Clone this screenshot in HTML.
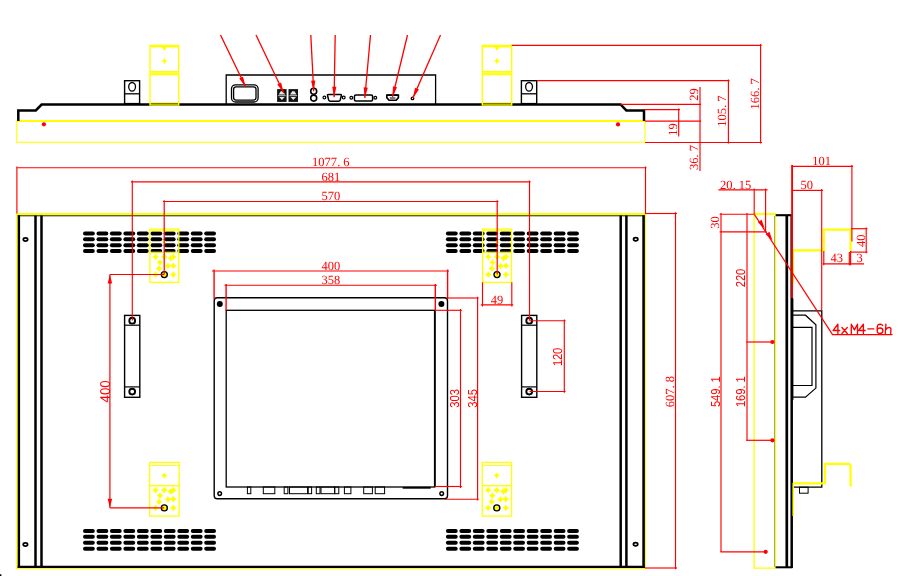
<!DOCTYPE html>
<html><head><meta charset="utf-8"><title>drawing</title>
<style>html,body{margin:0;padding:0;background:#fff;overflow:hidden;}svg{display:block;}svg{will-change:transform;}svg text{text-rendering:geometricPrecision;}</style></head>
<body><svg width="898" height="576" viewBox="0 0 898 576">
<rect width="898" height="576" fill="#fff"/>
<rect x="16.8" y="121" width="628.2" height="21.3" stroke="#ffff00" stroke-width="1.1" fill="none" rx="0"/>
<line x1="16.8" y1="121" x2="645" y2="121" stroke="#ffff00" stroke-width="2" />
<polyline points="18.3,121 18.3,110.4 35.8,110.4 41.6,104.5 620.6,104.5 626.3,110.4 644,110.4 644,121" stroke="#000000" stroke-width="2.5" fill="none" />
<circle cx="43.9" cy="124.3" r="2.1" stroke="none" stroke-width="0" fill="#ff0000"/>
<circle cx="618" cy="124.4" r="2.1" stroke="none" stroke-width="0" fill="#ff0000"/>
<rect x="150" y="45.5" width="28.7" height="59.5" stroke="#ffff00" stroke-width="1.4" fill="none" rx="0"/>
<line x1="150" y1="46.6" x2="178.7" y2="46.6" stroke="#ffff00" stroke-width="1.6" />
<rect x="150" y="71.3" width="28.7" height="3.7" stroke="none" stroke-width="0" fill="#ffff30" rx="0"/>
<line x1="150" y1="71.5" x2="178.7" y2="71.5" stroke="#ffff00" stroke-width="1" />
<line x1="150" y1="74.8" x2="178.7" y2="74.8" stroke="#ffff00" stroke-width="1" />
<line x1="150" y1="102.8" x2="178.7" y2="102.8" stroke="#ffff00" stroke-width="1" />
<path d="M161.85 47 L166.85 47 L164.35 51 Z" fill="#ffff00"/>
<path d="M164.35 57.5 l1 2.6 l2.6 1 l-2.6 1 l-1 2.6 l-1 -2.6 l-2.6 -1 l2.6 -1 z" fill="#ffff00"/>
<rect x="482.3" y="45.5" width="29.4" height="59.5" stroke="#ffff00" stroke-width="1.4" fill="none" rx="0"/>
<line x1="482.3" y1="46.6" x2="511.7" y2="46.6" stroke="#ffff00" stroke-width="1.6" />
<rect x="482.3" y="71.3" width="29.4" height="3.7" stroke="none" stroke-width="0" fill="#ffff30" rx="0"/>
<line x1="482.3" y1="71.5" x2="511.7" y2="71.5" stroke="#ffff00" stroke-width="1" />
<line x1="482.3" y1="74.8" x2="511.7" y2="74.8" stroke="#ffff00" stroke-width="1" />
<line x1="482.3" y1="102.8" x2="511.7" y2="102.8" stroke="#ffff00" stroke-width="1" />
<path d="M494.5 47 L499.5 47 L497.0 51 Z" fill="#ffff00"/>
<path d="M497.0 57.5 l1 2.6 l2.6 1 l-2.6 1 l-1 2.6 l-1 -2.6 l-2.6 -1 l2.6 -1 z" fill="#ffff00"/>
<rect x="124.6" y="80.7" width="15.0" height="22.9" stroke="#000000" stroke-width="1.4" fill="none" rx="0"/>
<line x1="124.6" y1="93.8" x2="139.6" y2="93.8" stroke="#000000" stroke-width="1.3" />
<ellipse cx="132.1" cy="86.8" rx="3.4" ry="4.3" fill="none" stroke="#000000" stroke-width="1.3"/>
<rect x="521.4" y="80.7" width="15.3" height="22.9" stroke="#000000" stroke-width="1.4" fill="none" rx="0"/>
<line x1="521.4" y1="93.8" x2="536.7" y2="93.8" stroke="#000000" stroke-width="1.3" />
<ellipse cx="529.05" cy="86.8" rx="3.4" ry="4.3" fill="none" stroke="#000000" stroke-width="1.3"/>
<polyline points="226.2,104 226.2,75 435.6,75 435.6,104" stroke="#000000" stroke-width="1.3" fill="none" />
<rect x="231.5" y="84.8" width="26.6" height="17.2" stroke="#000000" stroke-width="1.3" fill="none" rx="4"/>
<rect x="233.6" y="86.8" width="22.4" height="13.3" stroke="#000000" stroke-width="1.3" fill="none" rx="2.5"/>
<rect x="277.1" y="89.1" width="9.5" height="12.8" stroke="none" stroke-width="0" fill="#111" rx="0"/>
<path d="M278.70000000000005 94.39999999999999 L280.70000000000005 91.3 L283.1 91.3 L285.1 94.39999999999999 Z M279.1 97.0 L284.70000000000005 97.0 L281.90000000000003 100.1 Z" fill="#e8e8e8"/>
<line x1="278.1" y1="95.69999999999999" x2="285.70000000000005" y2="95.69999999999999" stroke="#eee" stroke-width="0.8" />
<rect x="288.5" y="89.1" width="9.5" height="12.8" stroke="none" stroke-width="0" fill="#111" rx="0"/>
<path d="M290.1 94.39999999999999 L292.1 91.3 L294.5 91.3 L296.5 94.39999999999999 Z M290.5 97.0 L296.1 97.0 L293.3 100.1 Z" fill="#e8e8e8"/>
<line x1="289.5" y1="95.69999999999999" x2="297.1" y2="95.69999999999999" stroke="#eee" stroke-width="0.8" />
<circle cx="313.7" cy="91.2" r="3" stroke="#000000" stroke-width="1.6" fill="none"/>
<circle cx="313.7" cy="98.1" r="3" stroke="#000000" stroke-width="1.6" fill="none"/>
<path d="M328.4 94.4 L340.5 94.4 Q341.7 94.4 341.3 95.7 L340.2 100 Q339.8 101.3 338.5 101.3 L330.4 101.3 Q329.1 101.3 328.7 100 L327.6 95.7 Q327.2 94.4 328.4 94.4 Z" fill="none" stroke="#000000" stroke-width="1.5"/>
<circle cx="324.4" cy="97.6" r="1.4" stroke="#000000" stroke-width="1.2" fill="none"/>
<circle cx="343.7" cy="97.6" r="1.4" stroke="#000000" stroke-width="1.2" fill="none"/>
<rect x="354.4" y="95" width="18.2" height="5.9" stroke="#000000" stroke-width="1.5" fill="none" rx="1.5"/>
<circle cx="351.3" cy="97.8" r="1.4" stroke="#000000" stroke-width="1.2" fill="none"/>
<circle cx="375.3" cy="97.8" r="1.4" stroke="#000000" stroke-width="1.2" fill="none"/>
<path d="M386.8 95.2 L398.4 95.2 L398.4 97.6 L396.2 100.3 L389 100.3 L386.8 97.6 Z" fill="none" stroke="#000000" stroke-width="1.6"/>
<line x1="386.5" y1="95.1" x2="398.7" y2="95.1" stroke="#000000" stroke-width="1.8" />
<line x1="389.8" y1="98" x2="395.4" y2="98" stroke="#000000" stroke-width="1" />
<circle cx="412.5" cy="98.4" r="1.3" stroke="#000000" stroke-width="1.3" fill="none"/>
<line x1="220.5" y1="35" x2="245.7" y2="87" stroke="#ff0000" stroke-width="1.3" />
<polygon points="245.70,87.00 239.23,78.47 243.01,76.64" fill="#ff0000"/>
<line x1="256" y1="35" x2="283.7" y2="93" stroke="#ff0000" stroke-width="1.3" />
<polygon points="283.70,93.00 277.28,84.43 281.07,82.62" fill="#ff0000"/>
<line x1="310.8" y1="35" x2="313.7" y2="91.2" stroke="#ff0000" stroke-width="1.3" />
<polygon points="313.70,91.20 311.06,80.82 315.26,80.61" fill="#ff0000"/>
<line x1="335.2" y1="35" x2="334.1" y2="97.3" stroke="#ff0000" stroke-width="1.3" />
<polygon points="334.10,97.30 332.19,86.76 336.39,86.84" fill="#ff0000"/>
<line x1="370.5" y1="35" x2="364.8" y2="98" stroke="#ff0000" stroke-width="1.3" />
<polygon points="364.80,98.00 363.65,87.35 367.84,87.73" fill="#ff0000"/>
<line x1="407.5" y1="35" x2="392.5" y2="97" stroke="#ff0000" stroke-width="1.3" />
<polygon points="392.50,97.00 392.93,86.30 397.01,87.29" fill="#ff0000"/>
<line x1="440.5" y1="35" x2="412.8" y2="98.2" stroke="#ff0000" stroke-width="1.3" />
<polygon points="412.80,98.20 415.09,87.74 418.94,89.43" fill="#ff0000"/>
<line x1="511.7" y1="45.4" x2="761.6" y2="45.4" stroke="#ff0000" stroke-width="1.4" />
<line x1="760.6" y1="44" x2="760.6" y2="143.5" stroke="#ff0000" stroke-width="1.15" />
<line x1="536.7" y1="80.7" x2="729.5" y2="80.7" stroke="#ff0000" stroke-width="1.3" />
<line x1="728.4" y1="79.4" x2="728.4" y2="143.5" stroke="#ff0000" stroke-width="1.15" />
<line x1="620.6" y1="104.3" x2="701" y2="104.3" stroke="#ff0000" stroke-width="1.15" />
<line x1="700" y1="87" x2="700" y2="171" stroke="#ff0000" stroke-width="1.15" />
<line x1="644" y1="109.6" x2="680" y2="109.6" stroke="#ff0000" stroke-width="1.15" />
<line x1="678.7" y1="108.5" x2="678.7" y2="136.6" stroke="#ff0000" stroke-width="1.15" />
<line x1="645" y1="121.2" x2="701" y2="121.2" stroke="#ff0000" stroke-width="1.2" />
<line x1="645" y1="142.5" x2="762" y2="142.5" stroke="#ff0000" stroke-width="1.2" />
<text transform="translate(759 93.8) rotate(-90) scale(1.0 1)" font-family="Liberation Serif" font-size="12.5" fill="#ff0000" text-anchor="middle"><tspan x="-12.50">1</tspan><tspan x="-6.25">6</tspan><tspan x="0.00">6</tspan><tspan x="4.88">.</tspan><tspan x="12.50">7</tspan></text>
<text transform="translate(726 111) rotate(-90) scale(1.0 1)" font-family="Liberation Serif" font-size="12.5" fill="#ff0000" text-anchor="middle"><tspan x="-12.50">1</tspan><tspan x="-6.25">0</tspan><tspan x="0.00">5</tspan><tspan x="4.88">.</tspan><tspan x="12.50">7</tspan></text>
<text transform="translate(698 94.6) rotate(-90) scale(1.0 1)" font-family="Liberation Serif" font-size="12.5" fill="#ff0000" text-anchor="middle"><tspan x="-3.12">2</tspan><tspan x="3.12">9</tspan></text>
<text transform="translate(698 157.6) rotate(-90) scale(1.0 1)" font-family="Liberation Serif" font-size="12.5" fill="#ff0000" text-anchor="middle"><tspan x="-9.38">3</tspan><tspan x="-3.12">6</tspan><tspan x="1.75">.</tspan><tspan x="9.38">7</tspan></text>
<text transform="translate(676.6 129.5) rotate(-90) scale(1.0 1)" font-family="Liberation Serif" font-size="12.5" fill="#ff0000" text-anchor="middle"><tspan x="-3.12">1</tspan><tspan x="3.12">9</tspan></text>
<line x1="16.3" y1="214.1" x2="646.2" y2="214.1" stroke="#ffff00" stroke-width="2.4" />
<line x1="17" y1="213" x2="17" y2="568.9" stroke="#ffff00" stroke-width="1.5" />
<line x1="645.5" y1="213" x2="645.5" y2="568.9" stroke="#ffff00" stroke-width="1.3" />
<line x1="16.3" y1="568.4" x2="646.2" y2="568.4" stroke="#ffff00" stroke-width="1.1" />
<line x1="17.7" y1="215.8" x2="644.9" y2="215.8" stroke="#000000" stroke-width="0.9" />
<line x1="18.9" y1="215.3" x2="18.9" y2="567.9" stroke="#000000" stroke-width="2.4" />
<line x1="643.6" y1="215.3" x2="643.6" y2="567.9" stroke="#000000" stroke-width="2.6" />
<line x1="17.7" y1="566.8" x2="644.9" y2="566.8" stroke="#000000" stroke-width="2.2" />
<line x1="35.5" y1="215.5" x2="35.5" y2="566.5" stroke="#000000" stroke-width="2.5" />
<line x1="41.5" y1="215.5" x2="41.5" y2="566.5" stroke="#000000" stroke-width="2.5" />
<line x1="620.7" y1="215.5" x2="620.7" y2="566.5" stroke="#000000" stroke-width="2.5" />
<line x1="626.4" y1="215.5" x2="626.4" y2="566.5" stroke="#000000" stroke-width="2.5" />
<ellipse cx="25.5" cy="239.5" rx="2.2" ry="1.6" fill="none" stroke="#000000" stroke-width="1.7"/>
<ellipse cx="635.7" cy="239.2" rx="2.2" ry="1.6" fill="none" stroke="#000000" stroke-width="1.7"/>
<ellipse cx="25.4" cy="544.5" rx="2.2" ry="1.6" fill="none" stroke="#000000" stroke-width="1.7"/>
<ellipse cx="635.6" cy="544.3" rx="2.2" ry="1.6" fill="none" stroke="#000000" stroke-width="1.7"/>
<rect x="83.0" y="231.50" width="11.8" height="4" rx="2" fill="#000000"/>
<rect x="96.5" y="231.50" width="11.8" height="4" rx="2" fill="#000000"/>
<rect x="109.9" y="231.50" width="11.8" height="4" rx="2" fill="#000000"/>
<rect x="123.4" y="231.50" width="11.8" height="4" rx="2" fill="#000000"/>
<rect x="136.9" y="231.50" width="11.8" height="4" rx="2" fill="#000000"/>
<rect x="150.4" y="231.50" width="11.8" height="4" rx="2" fill="#000000"/>
<rect x="163.8" y="231.50" width="11.8" height="4" rx="2" fill="#000000"/>
<rect x="177.3" y="231.50" width="11.8" height="4" rx="2" fill="#000000"/>
<rect x="190.8" y="231.50" width="11.8" height="4" rx="2" fill="#000000"/>
<rect x="204.2" y="231.50" width="11.8" height="4" rx="2" fill="#000000"/>
<rect x="83.0" y="237.35" width="11.8" height="4" rx="2" fill="#000000"/>
<rect x="96.5" y="237.35" width="11.8" height="4" rx="2" fill="#000000"/>
<rect x="109.9" y="237.35" width="11.8" height="4" rx="2" fill="#000000"/>
<rect x="123.4" y="237.35" width="11.8" height="4" rx="2" fill="#000000"/>
<rect x="136.9" y="237.35" width="11.8" height="4" rx="2" fill="#000000"/>
<rect x="150.4" y="237.35" width="11.8" height="4" rx="2" fill="#000000"/>
<rect x="163.8" y="237.35" width="11.8" height="4" rx="2" fill="#000000"/>
<rect x="177.3" y="237.35" width="11.8" height="4" rx="2" fill="#000000"/>
<rect x="190.8" y="237.35" width="11.8" height="4" rx="2" fill="#000000"/>
<rect x="204.2" y="237.35" width="11.8" height="4" rx="2" fill="#000000"/>
<rect x="83.0" y="243.20" width="11.8" height="4" rx="2" fill="#000000"/>
<rect x="96.5" y="243.20" width="11.8" height="4" rx="2" fill="#000000"/>
<rect x="109.9" y="243.20" width="11.8" height="4" rx="2" fill="#000000"/>
<rect x="123.4" y="243.20" width="11.8" height="4" rx="2" fill="#000000"/>
<rect x="136.9" y="243.20" width="11.8" height="4" rx="2" fill="#000000"/>
<rect x="150.4" y="243.20" width="11.8" height="4" rx="2" fill="#000000"/>
<rect x="163.8" y="243.20" width="11.8" height="4" rx="2" fill="#000000"/>
<rect x="177.3" y="243.20" width="11.8" height="4" rx="2" fill="#000000"/>
<rect x="190.8" y="243.20" width="11.8" height="4" rx="2" fill="#000000"/>
<rect x="204.2" y="243.20" width="11.8" height="4" rx="2" fill="#000000"/>
<rect x="83.0" y="249.05" width="11.8" height="4" rx="2" fill="#000000"/>
<rect x="96.5" y="249.05" width="11.8" height="4" rx="2" fill="#000000"/>
<rect x="109.9" y="249.05" width="11.8" height="4" rx="2" fill="#000000"/>
<rect x="123.4" y="249.05" width="11.8" height="4" rx="2" fill="#000000"/>
<rect x="136.9" y="249.05" width="11.8" height="4" rx="2" fill="#000000"/>
<rect x="150.4" y="249.05" width="11.8" height="4" rx="2" fill="#000000"/>
<rect x="163.8" y="249.05" width="11.8" height="4" rx="2" fill="#000000"/>
<rect x="177.3" y="249.05" width="11.8" height="4" rx="2" fill="#000000"/>
<rect x="190.8" y="249.05" width="11.8" height="4" rx="2" fill="#000000"/>
<rect x="204.2" y="249.05" width="11.8" height="4" rx="2" fill="#000000"/>
<rect x="83.0" y="528.90" width="11.8" height="4" rx="2" fill="#000000"/>
<rect x="96.5" y="528.90" width="11.8" height="4" rx="2" fill="#000000"/>
<rect x="109.9" y="528.90" width="11.8" height="4" rx="2" fill="#000000"/>
<rect x="123.4" y="528.90" width="11.8" height="4" rx="2" fill="#000000"/>
<rect x="136.9" y="528.90" width="11.8" height="4" rx="2" fill="#000000"/>
<rect x="150.4" y="528.90" width="11.8" height="4" rx="2" fill="#000000"/>
<rect x="163.8" y="528.90" width="11.8" height="4" rx="2" fill="#000000"/>
<rect x="177.3" y="528.90" width="11.8" height="4" rx="2" fill="#000000"/>
<rect x="190.8" y="528.90" width="11.8" height="4" rx="2" fill="#000000"/>
<rect x="204.2" y="528.90" width="11.8" height="4" rx="2" fill="#000000"/>
<rect x="83.0" y="534.83" width="11.8" height="4" rx="2" fill="#000000"/>
<rect x="96.5" y="534.83" width="11.8" height="4" rx="2" fill="#000000"/>
<rect x="109.9" y="534.83" width="11.8" height="4" rx="2" fill="#000000"/>
<rect x="123.4" y="534.83" width="11.8" height="4" rx="2" fill="#000000"/>
<rect x="136.9" y="534.83" width="11.8" height="4" rx="2" fill="#000000"/>
<rect x="150.4" y="534.83" width="11.8" height="4" rx="2" fill="#000000"/>
<rect x="163.8" y="534.83" width="11.8" height="4" rx="2" fill="#000000"/>
<rect x="177.3" y="534.83" width="11.8" height="4" rx="2" fill="#000000"/>
<rect x="190.8" y="534.83" width="11.8" height="4" rx="2" fill="#000000"/>
<rect x="204.2" y="534.83" width="11.8" height="4" rx="2" fill="#000000"/>
<rect x="83.0" y="540.76" width="11.8" height="4" rx="2" fill="#000000"/>
<rect x="96.5" y="540.76" width="11.8" height="4" rx="2" fill="#000000"/>
<rect x="109.9" y="540.76" width="11.8" height="4" rx="2" fill="#000000"/>
<rect x="123.4" y="540.76" width="11.8" height="4" rx="2" fill="#000000"/>
<rect x="136.9" y="540.76" width="11.8" height="4" rx="2" fill="#000000"/>
<rect x="150.4" y="540.76" width="11.8" height="4" rx="2" fill="#000000"/>
<rect x="163.8" y="540.76" width="11.8" height="4" rx="2" fill="#000000"/>
<rect x="177.3" y="540.76" width="11.8" height="4" rx="2" fill="#000000"/>
<rect x="190.8" y="540.76" width="11.8" height="4" rx="2" fill="#000000"/>
<rect x="204.2" y="540.76" width="11.8" height="4" rx="2" fill="#000000"/>
<rect x="83.0" y="546.69" width="11.8" height="4" rx="2" fill="#000000"/>
<rect x="96.5" y="546.69" width="11.8" height="4" rx="2" fill="#000000"/>
<rect x="109.9" y="546.69" width="11.8" height="4" rx="2" fill="#000000"/>
<rect x="123.4" y="546.69" width="11.8" height="4" rx="2" fill="#000000"/>
<rect x="136.9" y="546.69" width="11.8" height="4" rx="2" fill="#000000"/>
<rect x="150.4" y="546.69" width="11.8" height="4" rx="2" fill="#000000"/>
<rect x="163.8" y="546.69" width="11.8" height="4" rx="2" fill="#000000"/>
<rect x="177.3" y="546.69" width="11.8" height="4" rx="2" fill="#000000"/>
<rect x="190.8" y="546.69" width="11.8" height="4" rx="2" fill="#000000"/>
<rect x="204.2" y="546.69" width="11.8" height="4" rx="2" fill="#000000"/>
<rect x="445.9" y="231.50" width="11.8" height="4" rx="2" fill="#000000"/>
<rect x="459.4" y="231.50" width="11.8" height="4" rx="2" fill="#000000"/>
<rect x="472.8" y="231.50" width="11.8" height="4" rx="2" fill="#000000"/>
<rect x="486.3" y="231.50" width="11.8" height="4" rx="2" fill="#000000"/>
<rect x="499.8" y="231.50" width="11.8" height="4" rx="2" fill="#000000"/>
<rect x="513.2" y="231.50" width="11.8" height="4" rx="2" fill="#000000"/>
<rect x="526.7" y="231.50" width="11.8" height="4" rx="2" fill="#000000"/>
<rect x="540.2" y="231.50" width="11.8" height="4" rx="2" fill="#000000"/>
<rect x="553.7" y="231.50" width="11.8" height="4" rx="2" fill="#000000"/>
<rect x="567.1" y="231.50" width="11.8" height="4" rx="2" fill="#000000"/>
<rect x="445.9" y="237.35" width="11.8" height="4" rx="2" fill="#000000"/>
<rect x="459.4" y="237.35" width="11.8" height="4" rx="2" fill="#000000"/>
<rect x="472.8" y="237.35" width="11.8" height="4" rx="2" fill="#000000"/>
<rect x="486.3" y="237.35" width="11.8" height="4" rx="2" fill="#000000"/>
<rect x="499.8" y="237.35" width="11.8" height="4" rx="2" fill="#000000"/>
<rect x="513.2" y="237.35" width="11.8" height="4" rx="2" fill="#000000"/>
<rect x="526.7" y="237.35" width="11.8" height="4" rx="2" fill="#000000"/>
<rect x="540.2" y="237.35" width="11.8" height="4" rx="2" fill="#000000"/>
<rect x="553.7" y="237.35" width="11.8" height="4" rx="2" fill="#000000"/>
<rect x="567.1" y="237.35" width="11.8" height="4" rx="2" fill="#000000"/>
<rect x="445.9" y="243.20" width="11.8" height="4" rx="2" fill="#000000"/>
<rect x="459.4" y="243.20" width="11.8" height="4" rx="2" fill="#000000"/>
<rect x="472.8" y="243.20" width="11.8" height="4" rx="2" fill="#000000"/>
<rect x="486.3" y="243.20" width="11.8" height="4" rx="2" fill="#000000"/>
<rect x="499.8" y="243.20" width="11.8" height="4" rx="2" fill="#000000"/>
<rect x="513.2" y="243.20" width="11.8" height="4" rx="2" fill="#000000"/>
<rect x="526.7" y="243.20" width="11.8" height="4" rx="2" fill="#000000"/>
<rect x="540.2" y="243.20" width="11.8" height="4" rx="2" fill="#000000"/>
<rect x="553.7" y="243.20" width="11.8" height="4" rx="2" fill="#000000"/>
<rect x="567.1" y="243.20" width="11.8" height="4" rx="2" fill="#000000"/>
<rect x="445.9" y="249.05" width="11.8" height="4" rx="2" fill="#000000"/>
<rect x="459.4" y="249.05" width="11.8" height="4" rx="2" fill="#000000"/>
<rect x="472.8" y="249.05" width="11.8" height="4" rx="2" fill="#000000"/>
<rect x="486.3" y="249.05" width="11.8" height="4" rx="2" fill="#000000"/>
<rect x="499.8" y="249.05" width="11.8" height="4" rx="2" fill="#000000"/>
<rect x="513.2" y="249.05" width="11.8" height="4" rx="2" fill="#000000"/>
<rect x="526.7" y="249.05" width="11.8" height="4" rx="2" fill="#000000"/>
<rect x="540.2" y="249.05" width="11.8" height="4" rx="2" fill="#000000"/>
<rect x="553.7" y="249.05" width="11.8" height="4" rx="2" fill="#000000"/>
<rect x="567.1" y="249.05" width="11.8" height="4" rx="2" fill="#000000"/>
<rect x="445.9" y="528.90" width="11.8" height="4" rx="2" fill="#000000"/>
<rect x="459.4" y="528.90" width="11.8" height="4" rx="2" fill="#000000"/>
<rect x="472.8" y="528.90" width="11.8" height="4" rx="2" fill="#000000"/>
<rect x="486.3" y="528.90" width="11.8" height="4" rx="2" fill="#000000"/>
<rect x="499.8" y="528.90" width="11.8" height="4" rx="2" fill="#000000"/>
<rect x="513.2" y="528.90" width="11.8" height="4" rx="2" fill="#000000"/>
<rect x="526.7" y="528.90" width="11.8" height="4" rx="2" fill="#000000"/>
<rect x="540.2" y="528.90" width="11.8" height="4" rx="2" fill="#000000"/>
<rect x="553.7" y="528.90" width="11.8" height="4" rx="2" fill="#000000"/>
<rect x="567.1" y="528.90" width="11.8" height="4" rx="2" fill="#000000"/>
<rect x="445.9" y="534.83" width="11.8" height="4" rx="2" fill="#000000"/>
<rect x="459.4" y="534.83" width="11.8" height="4" rx="2" fill="#000000"/>
<rect x="472.8" y="534.83" width="11.8" height="4" rx="2" fill="#000000"/>
<rect x="486.3" y="534.83" width="11.8" height="4" rx="2" fill="#000000"/>
<rect x="499.8" y="534.83" width="11.8" height="4" rx="2" fill="#000000"/>
<rect x="513.2" y="534.83" width="11.8" height="4" rx="2" fill="#000000"/>
<rect x="526.7" y="534.83" width="11.8" height="4" rx="2" fill="#000000"/>
<rect x="540.2" y="534.83" width="11.8" height="4" rx="2" fill="#000000"/>
<rect x="553.7" y="534.83" width="11.8" height="4" rx="2" fill="#000000"/>
<rect x="567.1" y="534.83" width="11.8" height="4" rx="2" fill="#000000"/>
<rect x="445.9" y="540.76" width="11.8" height="4" rx="2" fill="#000000"/>
<rect x="459.4" y="540.76" width="11.8" height="4" rx="2" fill="#000000"/>
<rect x="472.8" y="540.76" width="11.8" height="4" rx="2" fill="#000000"/>
<rect x="486.3" y="540.76" width="11.8" height="4" rx="2" fill="#000000"/>
<rect x="499.8" y="540.76" width="11.8" height="4" rx="2" fill="#000000"/>
<rect x="513.2" y="540.76" width="11.8" height="4" rx="2" fill="#000000"/>
<rect x="526.7" y="540.76" width="11.8" height="4" rx="2" fill="#000000"/>
<rect x="540.2" y="540.76" width="11.8" height="4" rx="2" fill="#000000"/>
<rect x="553.7" y="540.76" width="11.8" height="4" rx="2" fill="#000000"/>
<rect x="567.1" y="540.76" width="11.8" height="4" rx="2" fill="#000000"/>
<rect x="445.9" y="546.69" width="11.8" height="4" rx="2" fill="#000000"/>
<rect x="459.4" y="546.69" width="11.8" height="4" rx="2" fill="#000000"/>
<rect x="472.8" y="546.69" width="11.8" height="4" rx="2" fill="#000000"/>
<rect x="486.3" y="546.69" width="11.8" height="4" rx="2" fill="#000000"/>
<rect x="499.8" y="546.69" width="11.8" height="4" rx="2" fill="#000000"/>
<rect x="513.2" y="546.69" width="11.8" height="4" rx="2" fill="#000000"/>
<rect x="526.7" y="546.69" width="11.8" height="4" rx="2" fill="#000000"/>
<rect x="540.2" y="546.69" width="11.8" height="4" rx="2" fill="#000000"/>
<rect x="553.7" y="546.69" width="11.8" height="4" rx="2" fill="#000000"/>
<rect x="567.1" y="546.69" width="11.8" height="4" rx="2" fill="#000000"/>
<rect x="149.9" y="229.1" width="28.9" height="53.3" stroke="#ffff00" stroke-width="1.3" fill="none" rx="0"/>
<line x1="149.9" y1="230.8" x2="178.8" y2="230.8" stroke="#ffff00" stroke-width="1" />
<line x1="149.9" y1="252.3" x2="178.8" y2="252.3" stroke="#ffff00" stroke-width="1.2" />
<path d="M155.60000000000002 253.60000000000002 L156.98600000000002 255.51400000000004 L158.90000000000003 256.90000000000003 L156.98600000000002 258.28600000000006 L155.60000000000002 260.20000000000005 L154.21400000000003 258.28600000000006 L152.3 256.90000000000003 L154.21400000000003 255.51400000000004 Z M164.3 253.60000000000002 L165.686 255.51400000000004 L167.60000000000002 256.90000000000003 L165.686 258.28600000000006 L164.3 260.20000000000005 L162.91400000000002 258.28600000000006 L161.0 256.90000000000003 L162.91400000000002 255.51400000000004 Z M170.8 254.90000000000003 L172.186 256.814 L174.10000000000002 258.20000000000005 L172.186 259.58600000000007 L170.8 261.50000000000006 L169.41400000000002 259.58600000000007 L167.5 258.20000000000005 L169.41400000000002 256.814 Z M173.3 253.60000000000002 L174.686 255.51400000000004 L176.60000000000002 256.90000000000003 L174.686 258.28600000000006 L173.3 260.20000000000005 L171.91400000000002 258.28600000000006 L170.0 256.90000000000003 L171.91400000000002 255.51400000000004 Z M160.0 259.1 L161.386 261.014 L163.3 262.40000000000003 L161.386 263.78600000000006 L160.0 265.70000000000005 L158.614 263.78600000000006 L156.7 262.40000000000003 L158.614 261.014 Z M167.9 262.8 L169.286 264.714 L171.20000000000002 266.1 L169.286 267.48600000000005 L167.9 269.40000000000003 L166.514 267.48600000000005 L164.6 266.1 L166.514 264.714 Z M173.3 262.5 L174.686 264.414 L176.60000000000002 265.8 L174.686 267.18600000000004 L173.3 269.1 L171.91400000000002 267.18600000000004 L170.0 265.8 L171.91400000000002 264.414 Z M159.10000000000002 265.2 L160.48600000000002 267.114 L162.40000000000003 268.5 L160.48600000000002 269.886 L159.10000000000002 271.8 L157.71400000000003 269.886 L155.8 268.5 L157.71400000000003 267.114 Z M155.60000000000002 271.3 L156.98600000000002 273.214 L158.90000000000003 274.6 L156.98600000000002 275.98600000000005 L155.60000000000002 277.90000000000003 L154.21400000000003 275.98600000000005 L152.3 274.6 L154.21400000000003 273.214 Z M173.3 271.3 L174.686 273.214 L176.60000000000002 274.6 L174.686 275.98600000000005 L173.3 277.90000000000003 L171.91400000000002 275.98600000000005 L170.0 274.6 L171.91400000000002 273.214 Z M164.3 240.10000000000002 L165.14000000000001 241.26000000000002 L166.3 242.10000000000002 L165.14000000000001 242.94000000000003 L164.3 244.10000000000002 L163.46 242.94000000000003 L162.3 242.10000000000002 L163.46 241.26000000000002 Z " fill="#ffff00"/>
<rect x="482.6" y="229.1" width="28.9" height="53.3" stroke="#ffff00" stroke-width="1.3" fill="none" rx="0"/>
<line x1="482.6" y1="230.8" x2="511.5" y2="230.8" stroke="#ffff00" stroke-width="1" />
<line x1="482.6" y1="252.3" x2="511.5" y2="252.3" stroke="#ffff00" stroke-width="1.2" />
<path d="M488.3 253.60000000000002 L489.68600000000004 255.51400000000004 L491.6 256.90000000000003 L489.68600000000004 258.28600000000006 L488.3 260.20000000000005 L486.914 258.28600000000006 L485.0 256.90000000000003 L486.914 255.51400000000004 Z M497 253.60000000000002 L498.386 255.51400000000004 L500.3 256.90000000000003 L498.386 258.28600000000006 L497 260.20000000000005 L495.614 258.28600000000006 L493.7 256.90000000000003 L495.614 255.51400000000004 Z M503.5 254.90000000000003 L504.886 256.814 L506.8 258.20000000000005 L504.886 259.58600000000007 L503.5 261.50000000000006 L502.114 259.58600000000007 L500.2 258.20000000000005 L502.114 256.814 Z M506 253.60000000000002 L507.386 255.51400000000004 L509.3 256.90000000000003 L507.386 258.28600000000006 L506 260.20000000000005 L504.614 258.28600000000006 L502.7 256.90000000000003 L504.614 255.51400000000004 Z M492.7 259.1 L494.086 261.014 L496.0 262.40000000000003 L494.086 263.78600000000006 L492.7 265.70000000000005 L491.31399999999996 263.78600000000006 L489.4 262.40000000000003 L491.31399999999996 261.014 Z M500.6 262.8 L501.98600000000005 264.714 L503.90000000000003 266.1 L501.98600000000005 267.48600000000005 L500.6 269.40000000000003 L499.214 267.48600000000005 L497.3 266.1 L499.214 264.714 Z M506 262.5 L507.386 264.414 L509.3 265.8 L507.386 267.18600000000004 L506 269.1 L504.614 267.18600000000004 L502.7 265.8 L504.614 264.414 Z M491.8 265.2 L493.18600000000004 267.114 L495.1 268.5 L493.18600000000004 269.886 L491.8 271.8 L490.414 269.886 L488.5 268.5 L490.414 267.114 Z M488.3 271.3 L489.68600000000004 273.214 L491.6 274.6 L489.68600000000004 275.98600000000005 L488.3 277.90000000000003 L486.914 275.98600000000005 L485.0 274.6 L486.914 273.214 Z M506 271.3 L507.386 273.214 L509.3 274.6 L507.386 275.98600000000005 L506 277.90000000000003 L504.614 275.98600000000005 L502.7 274.6 L504.614 273.214 Z M497 240.10000000000002 L497.84 241.26000000000002 L499 242.10000000000002 L497.84 242.94000000000003 L497 244.10000000000002 L496.16 242.94000000000003 L495 242.10000000000002 L496.16 241.26000000000002 Z " fill="#ffff00"/>
<rect x="149.70000000000002" y="462.4" width="29.4" height="53.7" stroke="#ffff00" stroke-width="1.3" fill="none" rx="0"/>
<line x1="149.70000000000002" y1="465.4" x2="179.10000000000002" y2="465.4" stroke="#ffff00" stroke-width="1" />
<line x1="149.70000000000002" y1="485.7" x2="179.10000000000002" y2="485.7" stroke="#ffff00" stroke-width="1.4" />
<path d="M155.60000000000002 486.9 L156.98600000000002 488.81399999999996 L158.90000000000003 490.2 L156.98600000000002 491.586 L155.60000000000002 493.5 L154.21400000000003 491.586 L152.3 490.2 L154.21400000000003 488.81399999999996 Z M164.3 486.9 L165.686 488.81399999999996 L167.60000000000002 490.2 L165.686 491.586 L164.3 493.5 L162.91400000000002 491.586 L161.0 490.2 L162.91400000000002 488.81399999999996 Z M170.8 488.2 L172.186 490.114 L174.10000000000002 491.5 L172.186 492.886 L170.8 494.8 L169.41400000000002 492.886 L167.5 491.5 L169.41400000000002 490.114 Z M173.3 486.9 L174.686 488.81399999999996 L176.60000000000002 490.2 L174.686 491.586 L173.3 493.5 L171.91400000000002 491.586 L170.0 490.2 L171.91400000000002 488.81399999999996 Z M160.0 492.4 L161.386 494.31399999999996 L163.3 495.7 L161.386 497.086 L160.0 499.0 L158.614 497.086 L156.7 495.7 L158.614 494.31399999999996 Z M167.9 496.09999999999997 L169.286 498.01399999999995 L171.20000000000002 499.4 L169.286 500.786 L167.9 502.7 L166.514 500.786 L164.6 499.4 L166.514 498.01399999999995 Z M173.3 495.79999999999995 L174.686 497.71399999999994 L176.60000000000002 499.09999999999997 L174.686 500.486 L173.3 502.4 L171.91400000000002 500.486 L170.0 499.09999999999997 L171.91400000000002 497.71399999999994 Z M159.10000000000002 498.49999999999994 L160.48600000000002 500.41399999999993 L162.40000000000003 501.79999999999995 L160.48600000000002 503.186 L159.10000000000002 505.09999999999997 L157.71400000000003 503.186 L155.8 501.79999999999995 L157.71400000000003 500.41399999999993 Z M155.60000000000002 504.59999999999997 L156.98600000000002 506.51399999999995 L158.90000000000003 507.9 L156.98600000000002 509.286 L155.60000000000002 511.2 L154.21400000000003 509.286 L152.3 507.9 L154.21400000000003 506.51399999999995 Z M173.3 504.59999999999997 L174.686 506.51399999999995 L176.60000000000002 507.9 L174.686 509.286 L173.3 511.2 L171.91400000000002 509.286 L170.0 507.9 L171.91400000000002 506.51399999999995 Z M164.3 472.4 L165.56 474.14 L167.3 475.4 L165.56 476.65999999999997 L164.3 478.4 L163.04000000000002 476.65999999999997 L161.3 475.4 L163.04000000000002 474.14 Z " fill="#ffff00"/>
<rect x="482.2" y="462.4" width="29.4" height="53.7" stroke="#ffff00" stroke-width="1.3" fill="none" rx="0"/>
<line x1="482.2" y1="465.4" x2="511.6" y2="465.4" stroke="#ffff00" stroke-width="1" />
<line x1="482.2" y1="485.7" x2="511.6" y2="485.7" stroke="#ffff00" stroke-width="1.4" />
<path d="M488.1 486.9 L489.48600000000005 488.81399999999996 L491.40000000000003 490.2 L489.48600000000005 491.586 L488.1 493.5 L486.714 491.586 L484.8 490.2 L486.714 488.81399999999996 Z M496.8 486.9 L498.18600000000004 488.81399999999996 L500.1 490.2 L498.18600000000004 491.586 L496.8 493.5 L495.414 491.586 L493.5 490.2 L495.414 488.81399999999996 Z M503.3 488.2 L504.68600000000004 490.114 L506.6 491.5 L504.68600000000004 492.886 L503.3 494.8 L501.914 492.886 L500.0 491.5 L501.914 490.114 Z M505.8 486.9 L507.18600000000004 488.81399999999996 L509.1 490.2 L507.18600000000004 491.586 L505.8 493.5 L504.414 491.586 L502.5 490.2 L504.414 488.81399999999996 Z M492.5 492.4 L493.886 494.31399999999996 L495.8 495.7 L493.886 497.086 L492.5 499.0 L491.114 497.086 L489.2 495.7 L491.114 494.31399999999996 Z M500.40000000000003 496.09999999999997 L501.78600000000006 498.01399999999995 L503.70000000000005 499.4 L501.78600000000006 500.786 L500.40000000000003 502.7 L499.014 500.786 L497.1 499.4 L499.014 498.01399999999995 Z M505.8 495.79999999999995 L507.18600000000004 497.71399999999994 L509.1 499.09999999999997 L507.18600000000004 500.486 L505.8 502.4 L504.414 500.486 L502.5 499.09999999999997 L504.414 497.71399999999994 Z M491.6 498.49999999999994 L492.98600000000005 500.41399999999993 L494.90000000000003 501.79999999999995 L492.98600000000005 503.186 L491.6 505.09999999999997 L490.214 503.186 L488.3 501.79999999999995 L490.214 500.41399999999993 Z M488.1 504.59999999999997 L489.48600000000005 506.51399999999995 L491.40000000000003 507.9 L489.48600000000005 509.286 L488.1 511.2 L486.714 509.286 L484.8 507.9 L486.714 506.51399999999995 Z M505.8 504.59999999999997 L507.18600000000004 506.51399999999995 L509.1 507.9 L507.18600000000004 509.286 L505.8 511.2 L504.414 509.286 L502.5 507.9 L504.414 506.51399999999995 Z M496.8 472.4 L498.06 474.14 L499.8 475.4 L498.06 476.65999999999997 L496.8 478.4 L495.54 476.65999999999997 L493.8 475.4 L495.54 474.14 Z " fill="#ffff00"/>
<rect x="124.6" y="315.4" width="15.2" height="81.9" stroke="#000000" stroke-width="1.4" fill="none" rx="0"/>
<line x1="124.6" y1="325.2" x2="139.8" y2="325.2" stroke="#000000" stroke-width="1.2" />
<line x1="124.6" y1="386.9" x2="139.8" y2="386.9" stroke="#000000" stroke-width="1.2" />
<circle cx="132.2" cy="320.7" r="2.9" stroke="#000000" stroke-width="1.9" fill="none"/>
<circle cx="132.2" cy="391.6" r="2.9" stroke="#000000" stroke-width="1.9" fill="none"/>
<rect x="521.6" y="315.4" width="15.2" height="81.9" stroke="#000000" stroke-width="1.4" fill="none" rx="0"/>
<line x1="521.6" y1="325.2" x2="536.8" y2="325.2" stroke="#000000" stroke-width="1.2" />
<line x1="521.6" y1="386.9" x2="536.8" y2="386.9" stroke="#000000" stroke-width="1.2" />
<circle cx="529.2" cy="320.7" r="2.9" stroke="#000000" stroke-width="1.9" fill="none"/>
<circle cx="529.2" cy="391.6" r="2.9" stroke="#000000" stroke-width="1.9" fill="none"/>
<rect x="214.2" y="297.7" width="233.3" height="201.0" stroke="#000000" stroke-width="1.4" fill="none" rx="3"/>
<rect x="226.2" y="310.3" width="208.6" height="176.7" stroke="#000000" stroke-width="1.3" fill="none" rx="0"/>
<line x1="434.8" y1="310.3" x2="434.8" y2="487" stroke="#000000" stroke-width="1.8" />
<circle cx="219.8" cy="304" r="3" stroke="none" stroke-width="0" fill="#000000"/>
<circle cx="441.4" cy="304" r="3" stroke="none" stroke-width="0" fill="#000000"/>
<circle cx="219.7" cy="493.6" r="1.8" stroke="#000000" stroke-width="1.5" fill="none"/>
<circle cx="441.7" cy="493.6" r="1.8" stroke="#000000" stroke-width="1.5" fill="none"/>
<rect x="247.4" y="487" width="3.4" height="6.7" stroke="#000000" stroke-width="1" fill="none" rx="0"/>
<rect x="263.3" y="487" width="11.5" height="6.7" stroke="#000000" stroke-width="1" fill="none" rx="0"/>
<rect x="284.2" y="487" width="3.7" height="6.7" stroke="#000000" stroke-width="1" fill="none" rx="0"/>
<rect x="289.5" y="487" width="18.1" height="6.7" stroke="#000000" stroke-width="1" fill="none" rx="0"/>
<rect x="308.2" y="487" width="3.4" height="6.7" stroke="#000000" stroke-width="1" fill="none" rx="0"/>
<rect x="316.3" y="487" width="3.7" height="6.7" stroke="#000000" stroke-width="1" fill="none" rx="0"/>
<rect x="321" y="487" width="13.7" height="6.7" stroke="#000000" stroke-width="1" fill="none" rx="0"/>
<rect x="334.7" y="487" width="4.1" height="6.7" stroke="#000000" stroke-width="1" fill="none" rx="0"/>
<rect x="344.4" y="487" width="6.5" height="6.7" stroke="#000000" stroke-width="1" fill="none" rx="0"/>
<rect x="363.7" y="487" width="8.7" height="6.7" stroke="#000000" stroke-width="1" fill="none" rx="0"/>
<rect x="375.2" y="487" width="9.4" height="6.7" stroke="#000000" stroke-width="1" fill="none" rx="0"/>
<line x1="402.7" y1="487.8" x2="430.7" y2="487.8" stroke="#000000" stroke-width="1.8" />
<circle cx="164.3" cy="274.6" r="3" stroke="#000000" stroke-width="1.4" fill="#ffff00"/>
<circle cx="497" cy="274.6" r="3" stroke="#000000" stroke-width="1.4" fill="#ffff00"/>
<circle cx="164.3" cy="507.9" r="3" stroke="#000000" stroke-width="1.4" fill="#ffff00"/>
<circle cx="496.8" cy="507.9" r="3" stroke="#000000" stroke-width="1.4" fill="#ffff00"/>
<line x1="16.9" y1="167.7" x2="646.5" y2="167.7" stroke="#ff0000" stroke-width="1.15" />
<line x1="16.9" y1="166.5" x2="16.9" y2="213.5" stroke="#ff0000" stroke-width="1.15" />
<line x1="645.5" y1="166.5" x2="645.5" y2="213.5" stroke="#ff0000" stroke-width="1.15" />
<line x1="131" y1="181.9" x2="530.5" y2="181.9" stroke="#ff0000" stroke-width="1.15" />
<line x1="132.3" y1="180.5" x2="132.3" y2="320.5" stroke="#ff0000" stroke-width="1.15" />
<line x1="529.5" y1="180.5" x2="529.5" y2="320.5" stroke="#ff0000" stroke-width="1.15" />
<line x1="163" y1="201.5" x2="498.5" y2="201.5" stroke="#ff0000" stroke-width="1.15" />
<line x1="164.2" y1="200.2" x2="164.2" y2="274.5" stroke="#ff0000" stroke-width="1.2" />
<line x1="497.2" y1="200.2" x2="497.2" y2="274.5" stroke="#ff0000" stroke-width="1.2" />
<text transform="translate(330.8 166.3) rotate(0) scale(1.0 1)" font-family="Liberation Serif" font-size="12.5" fill="#ff0000" text-anchor="middle"><tspan x="-15.62">1</tspan><tspan x="-9.38">0</tspan><tspan x="-3.12">7</tspan><tspan x="3.12">7</tspan><tspan x="8.00">.</tspan><tspan x="15.62">6</tspan></text>
<text transform="translate(330.8 180.9) rotate(0) scale(1.0 1)" font-family="Liberation Serif" font-size="12.5" fill="#ff0000" text-anchor="middle"><tspan x="-6.25">6</tspan><tspan x="0.00">8</tspan><tspan x="6.25">1</tspan></text>
<text transform="translate(330.8 200.3) rotate(0) scale(1.0 1)" font-family="Liberation Serif" font-size="12.5" fill="#ff0000" text-anchor="middle"><tspan x="-6.25">5</tspan><tspan x="0.00">7</tspan><tspan x="6.25">0</tspan></text>
<line x1="212" y1="271" x2="449" y2="271" stroke="#ff0000" stroke-width="1.15" />
<line x1="214.1" y1="269.5" x2="214.1" y2="299" stroke="#ff0000" stroke-width="1.4" />
<line x1="447.6" y1="269.5" x2="447.6" y2="299" stroke="#ff0000" stroke-width="1.4" />
<line x1="224.5" y1="285.2" x2="437" y2="285.2" stroke="#ff0000" stroke-width="1.15" />
<line x1="226.1" y1="284" x2="226.1" y2="310.5" stroke="#ff0000" stroke-width="1.4" />
<line x1="435.3" y1="284" x2="435.3" y2="310.5" stroke="#ff0000" stroke-width="1.4" />
<text transform="translate(330.8 269.6) rotate(0) scale(1.0 1)" font-family="Liberation Serif" font-size="12.5" fill="#ff0000" text-anchor="middle"><tspan x="-6.25">4</tspan><tspan x="0.00">0</tspan><tspan x="6.25">0</tspan></text>
<text transform="translate(330.8 284.2) rotate(0) scale(1.0 1)" font-family="Liberation Serif" font-size="12.5" fill="#ff0000" text-anchor="middle"><tspan x="-6.25">3</tspan><tspan x="0.00">5</tspan><tspan x="6.25">8</tspan></text>
<line x1="482.5" y1="282.3" x2="482.5" y2="306.5" stroke="#ff0000" stroke-width="1.15" />
<line x1="511.8" y1="282.3" x2="511.8" y2="306.5" stroke="#ff0000" stroke-width="1.15" />
<line x1="481" y1="304.8" x2="513.3" y2="304.8" stroke="#ff0000" stroke-width="1.15" />
<text transform="translate(497.1 304) rotate(0) scale(1.0 1)" font-family="Liberation Serif" font-size="12.5" fill="#ff0000" text-anchor="middle"><tspan x="-3.12">4</tspan><tspan x="3.12">9</tspan></text>
<line x1="447.5" y1="298" x2="478.6" y2="298" stroke="#ff0000" stroke-width="1.15" />
<line x1="445" y1="499.2" x2="478.6" y2="499.2" stroke="#ff0000" stroke-width="1.15" />
<line x1="477.6" y1="296.8" x2="477.6" y2="500.5" stroke="#ff0000" stroke-width="1.15" />
<line x1="435" y1="310.3" x2="461.8" y2="310.3" stroke="#ff0000" stroke-width="1.15" />
<line x1="434.8" y1="486.5" x2="461.8" y2="486.5" stroke="#ff0000" stroke-width="1.15" />
<line x1="460.5" y1="309" x2="460.5" y2="488" stroke="#ff0000" stroke-width="1.15" />
<text transform="translate(459.3 398.4) rotate(-90) scale(0.86 1)" font-family="Liberation Sans" font-size="13" fill="#ff0000" text-anchor="middle"><tspan x="-7.21">3</tspan><tspan x="0.00">0</tspan><tspan x="7.21">3</tspan></text>
<text transform="translate(476.5 398.4) rotate(-90) scale(0.86 1)" font-family="Liberation Sans" font-size="13" fill="#ff0000" text-anchor="middle"><tspan x="-7.21">3</tspan><tspan x="0.00">4</tspan><tspan x="7.21">5</tspan></text>
<line x1="529.5" y1="320.7" x2="565.6" y2="320.7" stroke="#ff0000" stroke-width="1.15" />
<line x1="529.5" y1="391.5" x2="565.6" y2="391.5" stroke="#ff0000" stroke-width="1.15" />
<line x1="564.3" y1="319.4" x2="564.3" y2="392.8" stroke="#ff0000" stroke-width="1.15" />
<text transform="translate(562 357) rotate(-90) scale(0.86 1)" font-family="Liberation Sans" font-size="13" fill="#ff0000" text-anchor="middle"><tspan x="-6.98">1</tspan><tspan x="0.00">2</tspan><tspan x="6.98">0</tspan></text>
<line x1="645" y1="213.5" x2="677" y2="213.5" stroke="#ff0000" stroke-width="1.15" />
<line x1="645" y1="568" x2="677" y2="568" stroke="#ff0000" stroke-width="1.15" />
<line x1="675.5" y1="212.3" x2="675.5" y2="569.2" stroke="#ff0000" stroke-width="1.15" />
<text transform="translate(673.6 391.5) rotate(-90) scale(1.0 1)" font-family="Liberation Serif" font-size="12.5" fill="#ff0000" text-anchor="middle"><tspan x="-12.50">6</tspan><tspan x="-6.25">0</tspan><tspan x="0.00">7</tspan><tspan x="4.88">.</tspan><tspan x="12.50">8</tspan></text>
<line x1="109.9" y1="274.5" x2="164.2" y2="274.5" stroke="#ff0000" stroke-width="1.2" />
<line x1="109.9" y1="274.5" x2="109.9" y2="507.8" stroke="#ff0000" stroke-width="1.2" />
<line x1="109.9" y1="507.8" x2="164.2" y2="507.8" stroke="#ff0000" stroke-width="1.2" />
<polygon points="109.90,274.50 112.10,283.50 107.70,283.50" fill="#ff0000"/>
<polygon points="109.90,507.80 107.70,498.80 112.10,498.80" fill="#ff0000"/>
<text transform="translate(110.3 391.4) rotate(-90) scale(0.93 1)" font-family="Liberation Sans" font-size="14.2" fill="#ff0000" text-anchor="middle"><tspan x="-7.96">4</tspan><tspan x="0.00">0</tspan><tspan x="7.96">0</tspan></text>
<rect x="0" y="574.3" width="1.4" height="1.7" fill="#000000"/>
<polyline points="775.6,214 754.1,214 754.1,568.2 775.6,568.2" stroke="#ffff00" stroke-width="1.3" fill="none" />
<line x1="754.1" y1="214" x2="775.6" y2="214" stroke="#ffff00" stroke-width="1.8" />
<line x1="775.6" y1="214" x2="775.6" y2="568.2" stroke="#ffff00" stroke-width="1.3" />
<line x1="774.5" y1="216" x2="774.5" y2="567" stroke="#888" stroke-width="0.8" />
<line x1="775.7" y1="215.2" x2="792.5" y2="215.2" stroke="#000000" stroke-width="2.1" />
<line x1="786.8" y1="215" x2="786.8" y2="568" stroke="#000000" stroke-width="2.7" />
<line x1="791.7" y1="215" x2="791.7" y2="568" stroke="#000000" stroke-width="2.5" />
<line x1="775.6" y1="567.3" x2="792.3" y2="567.3" stroke="#000000" stroke-width="2" />
<polyline points="793,310.8 821.8,310.8 821.8,487.2 793,487.2" stroke="#000000" stroke-width="1.3" fill="none" />
<polyline points="793,315.2 805.5,315.2 815.9,324.8 815.9,388.1 805.5,397.2 793,397.2" stroke="#000000" stroke-width="1.2" fill="none" />
<polyline points="793,327.4 812,327.4 812,385.5 793,385.5" stroke="#000000" stroke-width="1.2" fill="none" />
<rect x="799.5" y="487.2" width="8.6" height="6.0" stroke="#000000" stroke-width="1" fill="none" rx="0"/>
<line x1="792.4" y1="298.4" x2="792.4" y2="400" stroke="#000000" stroke-width="2" />
<polyline points="793,250.4 823.8,250.4 823.8,229.6 850.6,229.6 850.6,251.8" stroke="#ffff00" stroke-width="2.2" fill="none" />
<line x1="793.3" y1="249.5" x2="793.3" y2="283.3" stroke="#ffff00" stroke-width="1.4" />
<polyline points="793,483.4 825,483.4 825,463.9 849,463.9 850.6,465.5 850.6,486.6" stroke="#ffff00" stroke-width="2.2" fill="none" stroke-linejoin="round"/>
<line x1="793.2" y1="483" x2="793.2" y2="516" stroke="#ffff00" stroke-width="1.5" />
<line x1="791.8" y1="166.4" x2="853" y2="166.4" stroke="#ff0000" stroke-width="1.15" />
<line x1="792.1" y1="165" x2="792.1" y2="298" stroke="#ff0000" stroke-width="1.9" />
<line x1="851.9" y1="165" x2="851.9" y2="241.5" stroke="#ff0000" stroke-width="1.15" />
<text transform="translate(821.7 165.2) rotate(0) scale(1.0 1)" font-family="Liberation Serif" font-size="12.5" fill="#ff0000" text-anchor="middle"><tspan x="-6.25">1</tspan><tspan x="0.00">0</tspan><tspan x="6.25">1</tspan></text>
<line x1="791.8" y1="190.4" x2="823" y2="190.4" stroke="#ff0000" stroke-width="1.15" />
<line x1="821.7" y1="189" x2="821.7" y2="310.8" stroke="#ff0000" stroke-width="1.15" />
<text transform="translate(806.8 189.2) rotate(0) scale(1.0 1)" font-family="Liberation Serif" font-size="12.5" fill="#ff0000" text-anchor="middle"><tspan x="-3.12">5</tspan><tspan x="3.12">0</tspan></text>
<line x1="718.4" y1="189.8" x2="767.6" y2="189.8" stroke="#ff0000" stroke-width="1.15" />
<line x1="754.2" y1="188.4" x2="754.2" y2="214" stroke="#ff0000" stroke-width="1.15" />
<line x1="765.6" y1="188.4" x2="765.6" y2="232" stroke="#ff0000" stroke-width="1.15" />
<text transform="translate(735.6 188.6) rotate(0) scale(1.0 1)" font-family="Liberation Serif" font-size="12.5" fill="#ff0000" text-anchor="middle"><tspan x="-12.50">2</tspan><tspan x="-6.25">0</tspan><tspan x="-1.37">.</tspan><tspan x="6.25">1</tspan><tspan x="12.50">5</tspan></text>
<line x1="719.6" y1="214.2" x2="754.2" y2="214.2" stroke="#ff0000" stroke-width="1.15" />
<line x1="719.6" y1="231.8" x2="766.6" y2="231.8" stroke="#ff0000" stroke-width="1.15" />
<line x1="721" y1="213" x2="721" y2="552" stroke="#ff0000" stroke-width="1.15" />
<line x1="747" y1="213" x2="747" y2="441" stroke="#ff0000" stroke-width="1.15" />
<text transform="translate(719.4 222.6) rotate(-90) scale(1.0 1)" font-family="Liberation Serif" font-size="12.5" fill="#ff0000" text-anchor="middle"><tspan x="-3.12">3</tspan><tspan x="3.12">0</tspan></text>
<text transform="translate(745.4 278) rotate(-90) scale(0.86 1)" font-family="Liberation Sans" font-size="13" fill="#ff0000" text-anchor="middle"><tspan x="-7.21">2</tspan><tspan x="0.00">2</tspan><tspan x="7.21">0</tspan></text>
<text transform="translate(720.4 391.7) rotate(-90) scale(0.86 1)" font-family="Liberation Sans" font-size="13" fill="#ff0000" text-anchor="middle"><tspan x="-14.19">5</tspan><tspan x="-7.09">4</tspan><tspan x="0.00">9</tspan><tspan x="5.53">.</tspan><tspan x="14.19">1</tspan></text>
<text transform="translate(745 391.7) rotate(-90) scale(0.86 1)" font-family="Liberation Sans" font-size="13" fill="#ff0000" text-anchor="middle"><tspan x="-14.19">1</tspan><tspan x="-7.09">6</tspan><tspan x="0.00">9</tspan><tspan x="5.53">.</tspan><tspan x="14.19">1</tspan></text>
<line x1="746.4" y1="342" x2="772.4" y2="342" stroke="#ff0000" stroke-width="1.2" />
<circle cx="772.4" cy="342" r="2.1" stroke="none" stroke-width="0" fill="#ff0000"/>
<line x1="746.4" y1="440.3" x2="772.4" y2="440.3" stroke="#ff0000" stroke-width="1.2" />
<circle cx="772.4" cy="440.3" r="2.1" stroke="none" stroke-width="0" fill="#ff0000"/>
<line x1="720.4" y1="551.8" x2="765.7" y2="551.8" stroke="#ff0000" stroke-width="1.2" />
<circle cx="765.7" cy="551.8" r="2.1" stroke="none" stroke-width="0" fill="#ff0000"/>
<line x1="851" y1="228.7" x2="867.5" y2="228.7" stroke="#ff0000" stroke-width="1.15" />
<line x1="851" y1="252.1" x2="867.5" y2="252.1" stroke="#ff0000" stroke-width="1.15" />
<line x1="866.2" y1="227.5" x2="866.2" y2="253.3" stroke="#ff0000" stroke-width="1.15" />
<text transform="translate(865 240.7) rotate(-90) scale(1.0 1)" font-family="Liberation Serif" font-size="12.5" fill="#ff0000" text-anchor="middle"><tspan x="-3.12">4</tspan><tspan x="3.12">0</tspan></text>
<line x1="822.5" y1="263.9" x2="864" y2="263.9" stroke="#ff0000" stroke-width="1.15" />
<line x1="823.8" y1="251" x2="823.8" y2="265.2" stroke="#ff0000" stroke-width="1.15" />
<line x1="850.6" y1="251" x2="850.6" y2="265.2" stroke="#ff0000" stroke-width="1.15" />
<line x1="849.3" y1="252" x2="849.3" y2="265.2" stroke="#ff0000" stroke-width="1.15" />
<text transform="translate(836.8 262.4) rotate(0) scale(1.0 1)" font-family="Liberation Serif" font-size="12.5" fill="#ff0000" text-anchor="middle"><tspan x="-3.12">4</tspan><tspan x="3.12">3</tspan></text>
<text transform="translate(859.5 262.4) rotate(0) scale(1.0 1)" font-family="Liberation Serif" font-size="12.5" fill="#ff0000" text-anchor="middle"><tspan x="0.00">3</tspan></text>
<line x1="754.3" y1="214.3" x2="832.4" y2="334.4" stroke="#ff0000" stroke-width="1.2" />
<polygon points="764.70,228.60 757.95,222.25 761.64,219.86" fill="#ff0000"/>
<polygon points="772.50,240.60 765.75,234.25 769.44,231.86" fill="#ff0000"/>
<line x1="832" y1="334.6" x2="892.5" y2="334.6" stroke="#ff0000" stroke-width="1.2" />
<path transform="translate(833.10 333.5) scale(1 -1)" d="M4.8 0 L4.8 9.3 L0 3 L6.6 3" fill="none" stroke="#ff0000" stroke-width="1.35" stroke-linecap="round" stroke-linejoin="round"/>
<path transform="translate(841.60 333.5) scale(1 -1)" d="M0.3 0 L5.7 6 M0.3 6 L5.7 0" fill="none" stroke="#ff0000" stroke-width="1.35" stroke-linecap="round" stroke-linejoin="round"/>
<path transform="translate(851.10 333.5) scale(1 -1)" d="M0.2 0 L0.2 9.3 L3.3 3.6 L6.4 9.3 L6.4 0" fill="none" stroke="#ff0000" stroke-width="1.35" stroke-linecap="round" stroke-linejoin="round"/>
<path transform="translate(858.60 333.5) scale(1 -1)" d="M4.8 0 L4.8 9.3 L0 3 L6.6 3" fill="none" stroke="#ff0000" stroke-width="1.35" stroke-linecap="round" stroke-linejoin="round"/>
<path transform="translate(867.60 333.5) scale(1 -1)" d="M0.3 4.6 L6.2 4.6" fill="none" stroke="#ff0000" stroke-width="1.35" stroke-linecap="round" stroke-linejoin="round"/>
<path transform="translate(876.90 333.5) scale(1 -1)" d="M5.8 8 Q5 9.3 3.4 9.3 Q0.3 9.3 0.3 5.5 L0.3 2.8 Q0.3 0 3.1 0 Q6 0 6 2.8 Q6 5.5 3.1 5.5 Q0.8 5.5 0.3 3.6" fill="none" stroke="#ff0000" stroke-width="1.35" stroke-linecap="round" stroke-linejoin="round"/>
<path transform="translate(885.00 333.5) scale(1 -1)" d="M0.9 9.3 L0.3 0 M0.6 3.5 Q1.8 6 4 6 Q6 6 5.9 4 L5.7 0" fill="none" stroke="#ff0000" stroke-width="1.35" stroke-linecap="round" stroke-linejoin="round"/>
</svg></body></html>
